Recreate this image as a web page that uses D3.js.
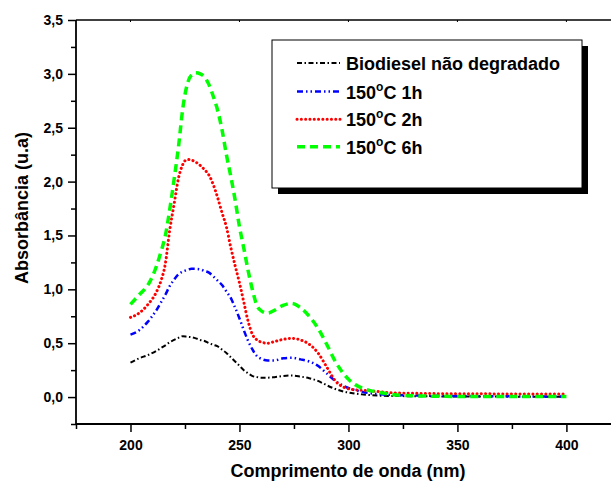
<!DOCTYPE html>
<html><head><meta charset="utf-8">
<script src="https://cdn.jsdelivr.net/npm/d3@7/dist/d3.min.js"></script>
<style>
html,body{margin:0;padding:0;background:#fff;}
svg{display:block;font-family:"Liberation Sans",Arial,sans-serif;font-weight:bold;}
</style></head>
<body><svg id="c" width="611" height="481"></svg>
<script>
// ---- data ----
const wavelengths = [200,204,208,212,214,216,218,220,222,224,226,228,230,232,234,236,238,240,242,244,246,248,250,252,254,256,258,260,263,266,270,274,278,282,286,290,294,298,302,306,310,315,320,330,340,350,360,370,380,390,400];
const naoDegradado = [0.32,0.36,0.39,0.43,0.455,0.48,0.51,0.53,0.55,0.565,0.56,0.555,0.545,0.53,0.52,0.50,0.485,0.47,0.44,0.41,0.37,0.33,0.29,0.25,0.22,0.195,0.185,0.18,0.18,0.185,0.195,0.20,0.19,0.175,0.15,0.11,0.075,0.05,0.035,0.025,0.018,0.012,0.01,0.008,0.006,0.005,0.005,0.004,0.004,0.004,0.004];
const h1 = [0.58,0.62,0.70,0.81,0.88,0.95,1.03,1.09,1.14,1.165,1.18,1.19,1.19,1.185,1.17,1.155,1.12,1.08,1.04,0.98,0.92,0.83,0.73,0.62,0.52,0.44,0.38,0.355,0.34,0.34,0.36,0.365,0.35,0.33,0.29,0.22,0.15,0.10,0.07,0.05,0.035,0.025,0.02,0.015,0.012,0.01,0.008,0.007,0.006,0.006,0.006];
const h2 = [0.74,0.78,0.86,0.98,1.08,1.24,1.55,1.79,2.03,2.16,2.205,2.20,2.18,2.15,2.11,2.06,1.97,1.85,1.71,1.58,1.39,1.22,1.06,0.88,0.70,0.58,0.53,0.51,0.50,0.515,0.535,0.545,0.53,0.49,0.41,0.28,0.15,0.09,0.07,0.063,0.058,0.048,0.04,0.035,0.032,0.03,0.03,0.029,0.028,0.028,0.028];
const h6 = [0.86,0.95,1.04,1.22,1.35,1.50,1.74,2.02,2.32,2.68,2.90,2.99,3.01,3.00,2.97,2.90,2.79,2.66,2.48,2.25,2.05,1.83,1.58,1.38,1.17,0.99,0.85,0.80,0.78,0.805,0.85,0.87,0.83,0.75,0.64,0.49,0.33,0.21,0.13,0.085,0.06,0.04,0.025,0.012,0.008,0.006,0.005,0.005,0.005,0.005,0.005];
const seriesNames = ["Biodiesel não degradado","150°C 1h","150°C 2h","150°C 6h"];
const xTicks = [200,250,300,350,400];
const yTicks = [0,0.5,1.0,1.5,2.0,2.5,3.0,3.5];

// ---- layout ----
const svg = d3.select("#c");
const x = d3.scaleLinear().domain([175,420]).range([76,610]);
const y = d3.scaleLinear().domain([-0.25,3.5]).range([424,20]);
const fmt = v => d3.format(".1f")(v).replace(".", ",");

const styles = [
  {color:"#000000", width:2,   dash:"5,2.5,1.5,2.5", cap:"butt"},
  {color:"#0000ff", width:2.5, dash:"6,3,1.5,3,1.5,3", cap:"butt"},
  {color:"#ff0000", width:3,   dash:"0.1,4.2", cap:"round"},
  {color:"#00ff00", width:3.5, dash:"8,5", cap:"butt"}
];
const allSeries = [naoDegradado,h1,h2,h6];

// axes
const xAxis = d3.axisBottom(x).tickValues(xTicks).tickSize(8).tickFormat(d3.format("d"));
const gx = svg.append("g").attr("transform","translate(0,424)").call(xAxis);
gx.select(".domain").remove();
gx.selectAll(".tick line").attr("stroke-width",1.5);
gx.selectAll(".tick text").attr("font-size",14).attr("font-weight","bold").attr("dy","1.05em").attr("font-family","Liberation Sans, Arial, sans-serif");
const xMinor = d3.axisBottom(x).tickValues([175,225,275,325,375]).tickSize(5).tickFormat("");
const gxm = svg.append("g").attr("transform","translate(0,424)").call(xMinor);
gxm.select(".domain").remove();
gxm.selectAll(".tick line").attr("stroke-width",1.5);

const yAxis = d3.axisLeft(y).tickValues(yTicks).tickSize(8).tickFormat(fmt);
const gy = svg.append("g").attr("transform","translate(76,0)").call(yAxis);
gy.select(".domain").remove();
gy.selectAll(".tick line").attr("stroke-width",1.5);
gy.selectAll(".tick text").attr("font-size",14).attr("font-weight","bold").attr("x",-13).attr("font-family","Liberation Sans, Arial, sans-serif");
const yMinor = d3.axisLeft(y).tickValues([-0.25,0.25,0.75,1.25,1.75,2.25,2.75,3.25]).tickSize(5).tickFormat("");
const gym = svg.append("g").attr("transform","translate(76,0)").call(yMinor);
gym.select(".domain").remove();
gym.selectAll(".tick line").attr("stroke-width",1.5);

// frame lines
svg.append("line").attr("x1",76).attr("x2",611).attr("y1",424).attr("y2",424).attr("stroke","#000").attr("stroke-width",1.8);
svg.append("line").attr("x1",76).attr("x2",611).attr("y1",20).attr("y2",20).attr("stroke","#000").attr("stroke-width",1.5);
svg.append("line").attr("x1",76).attr("x2",76).attr("y1",20).attr("y2",424).attr("stroke","#000").attr("stroke-width",1.8);
svg.append("g").selectAll("line").data(xTicks).join("line")
  .attr("x1",d=>x(d)).attr("x2",d=>x(d)).attr("y1",20).attr("y2",22).attr("stroke","#000").attr("stroke-width",1);

// curves
const line = d3.line().x((d,i)=>x(wavelengths[i])).y(d=>y(d)).curve(d3.curveMonotoneX);
allSeries.forEach((s,k)=>{
  svg.append("path").datum(s).attr("d",line).attr("fill","none")
    .attr("stroke",styles[k].color).attr("stroke-width",styles[k].width)
    .attr("stroke-dasharray",styles[k].dash).attr("stroke-linecap",styles[k].cap);
});

// axis titles
svg.append("text").attr("x",348).attr("y",477).attr("text-anchor","middle").attr("font-size",18).text("Comprimento de onda (nm)");
svg.append("text").attr("transform","translate(28,208) rotate(-90)").attr("text-anchor","middle").attr("font-size",18).text("Absorbância (u.a)");

// legend
const lg = svg.append("g");
lg.append("rect").attr("x",278).attr("y",46).attr("width",310).attr("height",148).attr("fill","#000");
lg.append("rect").attr("x",272).attr("y",40).attr("width",310).attr("height",148).attr("fill","#fff").attr("stroke","#000").attr("stroke-width",1);
const rowY = [63,91.5,119.3,146.7];
seriesNames.forEach((name,k)=>{
  lg.append("line").attr("x1",297).attr("x2",340).attr("y1",rowY[k]).attr("y2",rowY[k])
    .attr("stroke",styles[k].color).attr("stroke-width",styles[k].width)
    .attr("stroke-dasharray",styles[k].dash).attr("stroke-linecap",styles[k].cap);
  const t = lg.append("text").attr("x",346).attr("y",rowY[k]+7).attr("font-size",18);
  if (k===0) { t.text(name); }
  else {
    const parts = name.split("°");
    t.append("tspan").text(parts[0]);
    t.append("tspan").attr("font-size",12).attr("dy",-8).text("o");
    t.append("tspan").attr("dy",8).text(parts[1]);
  }
});
</script></body></html>
